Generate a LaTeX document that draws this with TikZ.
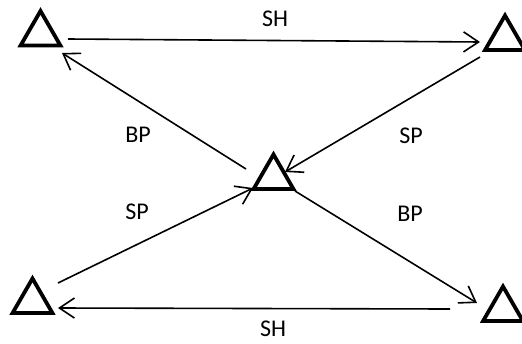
\documentclass[tikz,border=0pt]{standalone}
\usepackage{fontspec}
\setmainfont{Carlito}
\usetikzlibrary{shapes.geometric,arrows.meta}
\begin{document}
\begin{tikzpicture}[x=1pt,y=-1pt,
  tri/.style={regular polygon,regular polygon sides=3,draw=black,line width=3.8pt,
    minimum size=46pt,inner sep=0pt},
  conn/.style={line width=1.6pt,-{Straight Barb[length=15pt,width=20pt,line width=1.6pt]}},
  lbl/.style={font=\fontsize{24}{28}\selectfont,inner sep=0pt}]
\useasboundingbox (0,0) rectangle (522,343);
% triangles
\node[tri] (tl) at (40.5,34) {};
\node[tri] (tr) at (505,38.5) {};
\node[tri] (c) at (273.5,177.5) {};
\node[tri] (bl) at (32.5,301.5) {};
\node[tri] (br) at (503,309.5) {};
% connector end points
\coordinate (tlA) at (68,39);
\coordinate (trA) at (480,42);
\coordinate (tlB) at (62,53);
\coordinate (cB) at (246,169);
\coordinate (trC) at (480,57);
\coordinate (cC) at (285,172);
\coordinate (blD) at (58,283);
\coordinate (cD) at (253,188);
\coordinate (cE) at (295,191);
\coordinate (brE) at (477,303);
\coordinate (brF) at (450,309);
\coordinate (blF) at (58,308);
% connectors
\draw[conn] (tlA) -- (trA);
\draw[conn] (cB) -- (tlB);
\draw[conn] (trC) -- (cC);
\draw[conn] (blD) -- (cD);
\draw[conn] (cE) -- (brE);
\draw[conn] (brF) -- (blF);
% labels
\node[lbl] (l1) at (275,19) {SH};
\node[lbl] (l2) at (138,135) {BP};
\node[lbl] (l3) at (411,136) {SP};
\node[lbl] (l4) at (137,212) {SP};
\node[lbl] (l5) at (410,214) {BP};
\node[lbl] (l6) at (273,329) {SH};
\end{tikzpicture}
\end{document}
